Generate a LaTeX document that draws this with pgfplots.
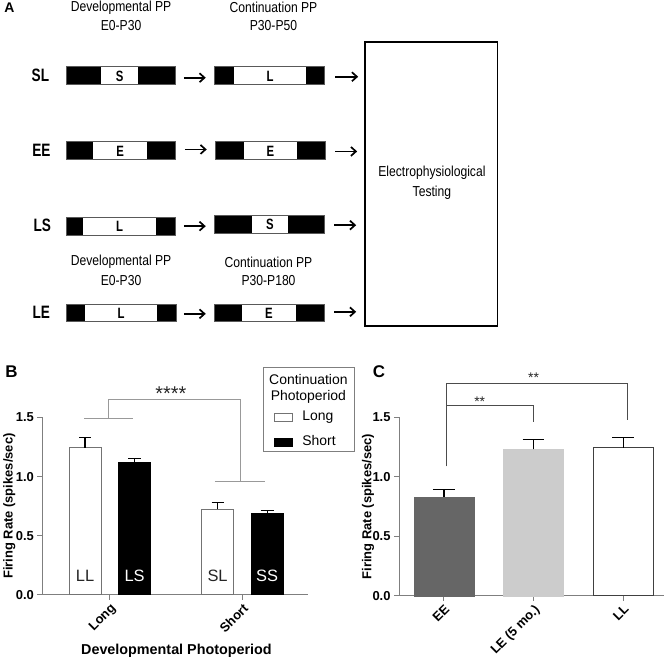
\documentclass[border=0pt]{standalone}
\usepackage{pgfplots}
\pgfplotsset{compat=1.18}
\usepackage{fontspec}
\setmainfont{Liberation Sans}
\newfontfamily\narrowfont[FakeStretch=0.84]{Liberation Sans}
\newfontfamily\narrowbold[FakeStretch=0.76]{Liberation Sans Bold}
\usetikzlibrary{arrows.meta}
\definecolor{axgray}{HTML}{7F7F7F}
\definecolor{siggray}{HTML}{999999}
\definecolor{darkbar}{HTML}{666666}
\definecolor{lightbar}{HTML}{CCCCCC}
\newcommand\fs[2]{\fontsize{#1}{#2}\selectfont}
\pgfplotsset{mylegend/.style={legend image code/.code={\draw[##1] (0pt,-4pt) rectangle (18pt,4pt);}}}
% \ppbar{x0}{x1}{x2}{x3}{ytop}{letter}
\newcommand\ppbar[6]{%
  \fill[black] (#1,#5) rectangle (#4,#5+18);
  \fill[white] (#2,#5) rectangle (#3,#5+18);
  \draw[black!65, line width=0.6pt] (#1,#5) rectangle (#4,#5+18);
  \node[font=\narrowbold\fs{15}{18}] at ({(#2+#3)/2},#5+9.5) {#6};
}
\pgfplotstableread{
x      y      e
-0.187 1.245  0.085
0.813  0.722  0.061
}\contlong
\pgfplotstableread{
x      y      e
0.187  1.119  0.036
1.187  0.688  0.022
}\contshort
\pgfplotstableread{
x  y      e
0  0.832  0.059
}\Cee
\pgfplotstableread{
x  y      e
1  1.232  0.084
}\Cle
\pgfplotstableread{
x  y      e
2  1.246  0.084
}\Cll
\pgfplotsset{myerr/.style={error bars/.cd, y dir=plus, y explicit, error mark=-,
  error bar style={black, line width=1.3pt},
  error mark options={black, line width=1.3pt, rotate=90, mark size=#1}}}
\begin{document}
\begin{tikzpicture}
\begin{scope}[x=1pt,y=-1pt]
\useasboundingbox (0,0) rectangle (670,663);
%%%%%%%%%% Panel A
\node[font=\bfseries\fs{14}{16}] at (7,8) {A};
\begin{scope}[font=\narrowfont\fs{14.5}{16}]
\node at (119,7.5) {Developmental PP};
\node at (119,25.5) {E0-P30};
\node at (272,7.5) {Continuation PP};
\node at (272,25.5) {P30-P50};
\node at (119,263) {Developmental PP};
\node at (119,282) {E0-P30};
\node at (267,263) {Continuation PP};
\node at (267,282) {P30-P180};
\end{scope}
\begin{scope}[font=\narrowbold\fs{18}{22}]
\node at (38,76) {SL};
\node at (39,151) {EE};
\node at (40,226) {LS};
\node at (39,313) {LE};
\end{scope}
\ppbar{64}{99}{136}{173}{67}{S}
\ppbar{213}{232}{305}{323}{67}{L}
\ppbar{64}{91}{145}{173}{142}{E}
\ppbar{214}{242}{296}{324}{142}{E}
\ppbar{64}{81}{154}{173}{218}{L}
\ppbar{213}{250}{287}{323}{216}{S}
\ppbar{64}{83}{155}{174}{305}{L}
\ppbar{213}{240}{295}{323}{305}{E}
\begin{scope}[line width=1.7pt, -{Straight Barb[length=5pt,width=9pt]}]
\draw (182,78) -- (204,78);
\draw (334,77) -- (357,77);
\draw (183,150) -- (205,150);
\draw (334,152) -- (356,152);
\draw (182,227) -- (204,227);
\draw (333,226) -- (355,226);
\draw (182,315) -- (204,315);
\draw (333,313) -- (355,313);
\end{scope}
\draw[line width=1.5pt] (364,42) rectangle (497,327);
\node[font=\narrowfont\fs{14.5}{20}, align=center] at (431,183) {Electrophysiological\\Testing};
\node[font=\bfseries\fs{17}{20}] at (9,373) {B};
% legend frame and title
\draw[axgray, line width=0.8pt] (262,369) rectangle (353,453);
\node[font=\fs{14}{16}] at (307,381) {Continuation};
\node[font=\fs{14}{16}] at (307,398) {Photoperiod};
\node[font=\bfseries\fs{17}{20}] at (378,373) {C};
\end{scope}
%%%%%%%%%% Panel B
\begin{axis}[
  at={(40pt,-597pt)}, anchor=south west,
  scale only axis, width=267pt, height=178pt,
  xmin=-0.509, xmax=1.498, ymin=0, ymax=1.5,
  clip=false,
  axis x line*=bottom, axis y line*=left,
  axis line style={axgray, line width=0.9pt},
  tick style={axgray, line width=0.9pt},
  tick align=outside, major tick length=5pt,
  xtick={0,1}, xticklabels={Long,Short},
  ytick={0,0.5,1,1.5},
  yticklabel style={/pgf/number format/.cd, fixed, fixed zerofill, precision=1},
  /pgf/number format/assume math mode=true,
  ticklabel style={font=\bfseries\fs{13}{15}, black},
  xticklabel style={rotate=45, anchor=north east, inner sep=2pt},
  ylabel={Firing Rate (spikes/sec)},
  ylabel style={font=\bfseries\fs{13}{15}, at={(axis description cs:-0.124,0.5)}, anchor=center, rotate=0},
  xlabel={Developmental Photoperiod},
  xlabel style={font=\bfseries\fs{14.4}{17}, at={(axis description cs:0.504,-0.315)}, anchor=center},
  legend style={draw=none, fill=none, at={(axis description cs:0.869,1.045)}, anchor=north west,
    inner sep=0pt, row sep=10pt, font=\fs{14}{16}, legend cell align=left,
    nodes={inner sep=1pt, text height=10pt, text depth=3pt}},
]
\addplot+[ybar, bar shift=0pt, bar width=0.24, fill=white, draw=black!55, line width=0.8pt, mark=none,
  mylegend, myerr=6pt]
  table[x=x, y=y, y error=e] {\contlong};
\addlegendentry{\hspace{9pt}Long}
\addplot+[ybar, bar shift=0pt, bar width=0.24, fill=black, draw=black, line width=0.8pt, mark=none,
  mylegend, myerr=6.5pt]
  table[x=x, y=y, y error=e] {\contshort};
\addlegendentry{\hspace{9pt}Short}
% bar annotations
\node[font=\fs{16.5}{18}, text=black!85] at (axis cs:-0.187,0.16) {LL};
\node[font=\fs{16.5}{18}, text=white] at (axis cs:0.187,0.16) {LS};
\node[font=\fs{16.5}{18}, text=black!85] at (axis cs:0.813,0.16) {SL};
\node[font=\fs{16.5}{18}, text=white] at (axis cs:1.187,0.16) {SS};
% significance
\draw[siggray, line width=1pt] (axis cs:-0.193,1.49) -- (axis cs:0.175,1.49);
\draw[siggray, line width=1pt] (axis cs:0.792,0.961) -- (axis cs:1.168,0.961);
\draw[siggray, line width=1pt] (axis cs:-0.013,1.49) -- (axis cs:-0.013,1.652) -- (axis cs:0.987,1.652) -- (axis cs:0.987,0.961);
\node[font=\fs{20}{22}, text=black!85, anchor=base] at (axis cs:0.461,1.64) {****};
\end{axis}
%%%%%%%%%% Panel C
\begin{axis}[
  at={(398pt,-598pt)}, anchor=south west,
  scale only axis, width=266pt, height=179pt,
  xmin=-0.5, xmax=2.456, ymin=0, ymax=1.5,
  clip=false,
  axis x line*=bottom, axis y line*=left,
  axis line style={axgray, line width=0.9pt},
  tick style={axgray, line width=0.9pt},
  tick align=outside, major tick length=5pt,
  xtick={0,1,2}, xticklabels={EE,LE (5 mo.),LL},
  ytick={0,0.5,1,1.5},
  yticklabel style={/pgf/number format/.cd, fixed, fixed zerofill, precision=1},
  /pgf/number format/assume math mode=true,
  ticklabel style={font=\bfseries\fs{13}{15}, black},
  xticklabel style={rotate=45, anchor=north east, inner sep=2pt},
  ylabel={Firing Rate (spikes/sec)},
  ylabel style={font=\bfseries\fs{13}{15}, at={(axis description cs:-0.117,0.5)}, anchor=center, rotate=0},
]
\addplot+[ybar, bar shift=0pt, bar width=0.667, fill=darkbar, draw=darkbar, mark=none, myerr=11pt]
  table[x=x, y=y, y error=e] {\Cee};
\addplot+[ybar, bar shift=0pt, bar width=0.667, fill=lightbar, draw=lightbar, mark=none, myerr=11pt]
  table[x=x, y=y, y error=e] {\Cle};
\addplot+[ybar, bar shift=0pt, bar width=0.667, fill=white, draw=black!75, line width=0.8pt, mark=none, myerr=11pt]
  table[x=x, y=y, y error=e] {\Cll};
\draw[black!70, line width=1pt] (axis cs:0.033,1.089) -- (axis cs:0.033,1.60) -- (axis cs:1.0,1.60) -- (axis cs:1.0,1.458);
\draw[black!70, line width=1pt] (axis cs:0.033,1.60) -- (axis cs:0.033,1.785) -- (axis cs:2.044,1.785) -- (axis cs:2.044,1.475);
\node[font=\fs{14}{16}, text=black!85, anchor=base] at (axis cs:0.4,1.592) {**};
\node[font=\fs{14}{16}, text=black!85, anchor=base] at (axis cs:1.0,1.793) {**};
\end{axis}
\end{tikzpicture}
\end{document}
